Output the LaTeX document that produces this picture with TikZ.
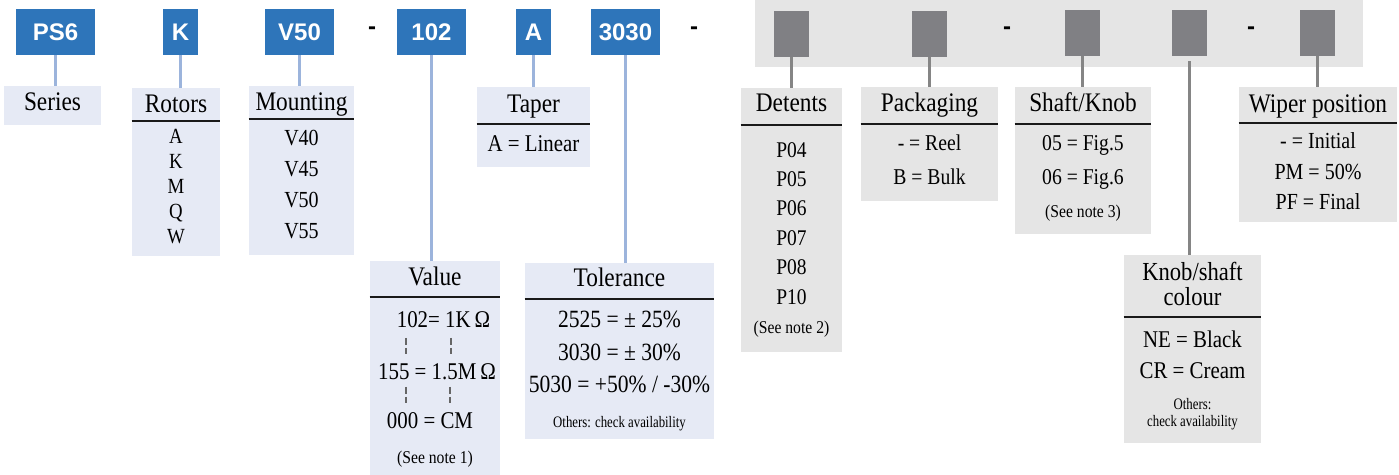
\documentclass[tikz,border=0pt]{standalone}
\usepackage{fontspec}
\setmainfont{Liberation Serif}[FakeStretch=0.87]
\newfontfamily\narrowfont{Liberation Serif}[FakeStretch=0.8]
\newfontfamily\codefont{Liberation Sans}
\usetikzlibrary{fit}
\definecolor{codeblue}{HTML}{2E75BA}
\definecolor{linkblue}{HTML}{9CB4DC}
\definecolor{paleblue}{HTML}{E6EAF5}
\definecolor{palegray}{HTML}{E5E5E5}
\definecolor{midgray}{HTML}{808084}
\definecolor{linkgray}{HTML}{858585}

\begin{document}
\begin{tikzpicture}[x=0.5pt,y=-0.5pt,
  codebox/.style={fill=codeblue, text=white, font=\codefont\bfseries\fontsize{12}{12}\selectfont,
    minimum height=23pt, minimum width=34.5pt, inner sep=0},
  slot/.style={fill=midgray, minimum width=17.5pt, minimum height=23pt, inner sep=0},
  sepmark/.style={font=\codefont\bfseries\fontsize{12}{12}\selectfont, inner sep=0},
  bluebox/.style={fill=paleblue, inner sep=0},
  graybox/.style={fill=palegray, inner sep=0},
  bconn/.style={draw=linkblue, line width=1.5pt},
  gconn/.style={draw=linkgray, line width=1.2pt},
  rule/.style={draw=black!90, line width=1.2pt},
  dmark/.style={draw=black!60, line width=0.6pt, dash pattern=on 3.3pt off 1.7pt},
  hdr/.style={font=\fontsize{13.4}{14}\selectfont, anchor=base, inner sep=0},
  itm/.style={font=\fontsize{#1}{#1}\selectfont, anchor=base, inner sep=0},
  sml/.style={font=\fontsize{9}{9}\selectfont, anchor=base, inner sep=0},
  nar/.style={font=\narrowfont\fontsize{8}{9}\selectfont, anchor=base, inner sep=0},
]
\useasboundingbox (0,0) rectangle (1399,475);

% ---- coded part numbers (blue) ----
\node[codebox, minimum width=39.5pt] (ps6) at (55.5,32) {PS6};
\node[codebox, minimum width=17.5pt] (k) at (180.5,32) {K};
\node[codebox] (v50) at (299.5,32) {V50};
\node[sepmark] (d1) at (372,31) {-};
\node[codebox] (c102) at (431.5,32) {102};
\node[codebox, minimum width=17.5pt] (ca) at (533.5,32) {A};
\node[codebox] (c3030) at (625.5,32) {3030};
\node[sepmark] (d2) at (694,31) {-};

% ---- optional part (gray) ----
\node[graybox, fit={(755,0) (1363,67)}] (optbar) {};
\node[slot] (s1) at (791.5,34) {};
\node[slot] (s2) at (929.5,34) {};
\node[sepmark] (d3) at (1007,31) {-};
\node[slot] (s3) at (1082.5,33) {};
\node[slot] (s4) at (1189.5,33) {};
\node[sepmark] (d4) at (1251,31) {-};
\node[slot] (s5) at (1317.5,33) {};

% ---- Series ----
\node[bluebox, fit={(4,86) (101,125)}] (series) {};
\node[hdr] (series-h) at (52.5,111) {Series};

% ---- Rotors ----
\node[bluebox, fit={(132,88) (220,256)}] (rotors) {};
\node[hdr] (rotors-h) at (176,113) {Rotors};
\draw[rule] (rotors.west |- 0,121) -- (rotors.east |- 0,121);
\node[itm=10.8] (r1) at (176,144) {A};
\node[itm=10.8] (r2) at (176,169) {K};
\node[itm=10.8] (r3) at (176,194) {M};
\node[itm=10.8] (r4) at (176,219) {Q};
\node[itm=10.8] (r5) at (176,244) {W};

% ---- Mounting ----
\node[bluebox, fit={(249,86) (354,255)}] (mounting) {};
\node[hdr] (mounting-h) at (301.5,111) {Mounting};
\draw[rule] (mounting.west |- 0,119) -- (mounting.east |- 0,119);
\node[itm=11.5] (m1) at (301.5,146) {V40};
\node[itm=11.5] (m2) at (301.5,177) {V45};
\node[itm=11.5] (m3) at (301.5,208) {V50};
\node[itm=11.5] (m4) at (301.5,239) {V55};

% ---- Taper ----
\node[bluebox, fit={(477,87) (590,167)}] (taper) {};
\node[hdr] (taper-h) at (533.5,113) {Taper};
\draw[rule] (taper.west |- 0,124) -- (taper.east |- 0,124);
\node[itm=12] (t1) at (533.5,152) {A = Linear};

% ---- Value ----
\node[bluebox, fit={(370,261) (500,475)}] (value) {};
\node[hdr] (value-h) at (435,286) {Value};
\draw[rule] (value.west |- 0,297) -- (value.east |- 0,297);
\node[itm=12] (v1) at (443.5,328) {102= 1K\,Ω};
\node[itm=12] (v2) at (437,380) {155 = 1.5M\,Ω};
\node[itm=12] (v3) at (430,429) {000 = CM};
\node[sml] (v4) at (435,464) {(See note 1)};
\draw[dmark] (406,338) -- (406,354);
\draw[dmark] (451,338) -- (451,354);
\draw[dmark] (406,387) -- (406,403);
\draw[dmark] (450,387) -- (450,403);

% ---- Tolerance ----
\node[bluebox, fit={(525,263) (714,439)}] (tolerance) {};
\node[hdr] (tol-h) at (619.5,287) {Tolerance};
\draw[rule] (tolerance.west |- 0,299) -- (tolerance.east |- 0,299);
\node[itm=12.4] (tol1) at (619.5,328) {2525 = ± 25\%};
\node[itm=12.4] (tol2) at (619.5,361) {3030 = ± 30\%};
\node[itm=12.4] (tol3) at (619.5,393) {5030 = +50\% / -30\%};
\node[nar] (tol4) at (619.5,428) {Others: check availability};

% ---- Detents ----
\node[graybox, fit={(741,88) (842,352)}] (detents) {};
\node[hdr] (det-h) at (791.5,112) {Detents};
\draw[rule] (detents.west |- 0,125) -- (detents.east |- 0,125);
\node[itm=11.2] (p1) at (791.5,158) {P04};
\node[itm=11.2] (p2) at (791.5,187) {P05};
\node[itm=11.2] (p3) at (791.5,216) {P06};
\node[itm=11.2] (p4) at (791.5,246) {P07};
\node[itm=11.2] (p5) at (791.5,275) {P08};
\node[itm=11.2] (p6) at (791.5,305) {P10};
\node[sml] (p7) at (791.5,334) {(See note 2)};

% ---- Packaging ----
\node[graybox, fit={(861,87) (998,201)}] (packaging) {};
\node[hdr] (pack-h) at (929.5,112) {Packaging};
\draw[rule] (packaging.west |- 0,124) -- (packaging.east |- 0,124);
\node[itm=11.3] (pk1) at (929.5,151) {- = Reel};
\node[itm=11.3] (pk2) at (929.5,185) {B = Bulk};

% ---- Shaft/Knob ----
\node[graybox, fit={(1015,87) (1151,234)}] (shaft) {};
\node[hdr] (shaft-h) at (1083,112) {Shaft/Knob};
\draw[rule] (shaft.west |- 0,124) -- (shaft.east |- 0,124);
\node[itm=11.3] (sh1) at (1083,151) {05 = Fig.5};
\node[itm=11.3] (sh2) at (1083,185) {06 = Fig.6};
\node[sml] (sh3) at (1083,218) {(See note 3)};

% ---- Knob/shaft colour (two-line header) ----
\node[graybox, fit={(1124,255) (1261,443)}] (colour) {};
\node[font=\fontsize{13}{12.5}\selectfont, align=center, inner sep=0, anchor=center]
  (col-h) at (1192.5,283.6) {Knob/shaft\\colour};
\draw[rule] (colour.west |- 0,317) -- (colour.east |- 0,317);
\node[itm=12] (cl1) at (1192.5,348) {NE = Black};
\node[itm=12] (cl2) at (1192.5,379) {CR = Cream};
\node[font=\narrowfont\fontsize{8}{8.5}\selectfont, align=center, inner sep=0, anchor=base]
  (cl3) at (1192.5,427) {Others:\\check availability};

% ---- Wiper position ----
\node[graybox, fit={(1239,87) (1397,222)}] (wiper) {};
\node[hdr] (wip-h) at (1318,113) {Wiper position};
\draw[rule] (wiper.west |- 0,123) -- (wiper.east |- 0,123);
\node[itm=11.5] (w1) at (1318,149) {- = Initial};
\node[itm=11.5] (w2) at (1318,180) {PM = 50\%};
\node[itm=11.5] (w3) at (1318,210) {PF = Final};

% ---- connectors ----
\draw[bconn] (ps6.south) -- (ps6.south |- series.north);
\draw[bconn] (k.south) -- (k.south |- rotors.north);
\draw[bconn] (v50.south) -- (v50.south |- mounting.north);
\draw[bconn] (c102.south) -- (c102.south |- value.north);
\draw[bconn] (ca.south) -- (ca.south |- taper.north);
\draw[bconn] (c3030.south) -- (c3030.south |- tolerance.north);
\draw[gconn] (s1.south) -- (s1.south |- detents.north);
\draw[gconn] (s2.south) -- (s2.south |- packaging.north);
\draw[gconn] (s3.south) -- (s3.south |- shaft.north);
\draw[gconn, shorten <=2.5pt] (s4.south) -- (s4.south |- colour.north);
\draw[gconn] (s5.south) -- (s5.south |- wiper.north);
\end{tikzpicture}
\end{document}
